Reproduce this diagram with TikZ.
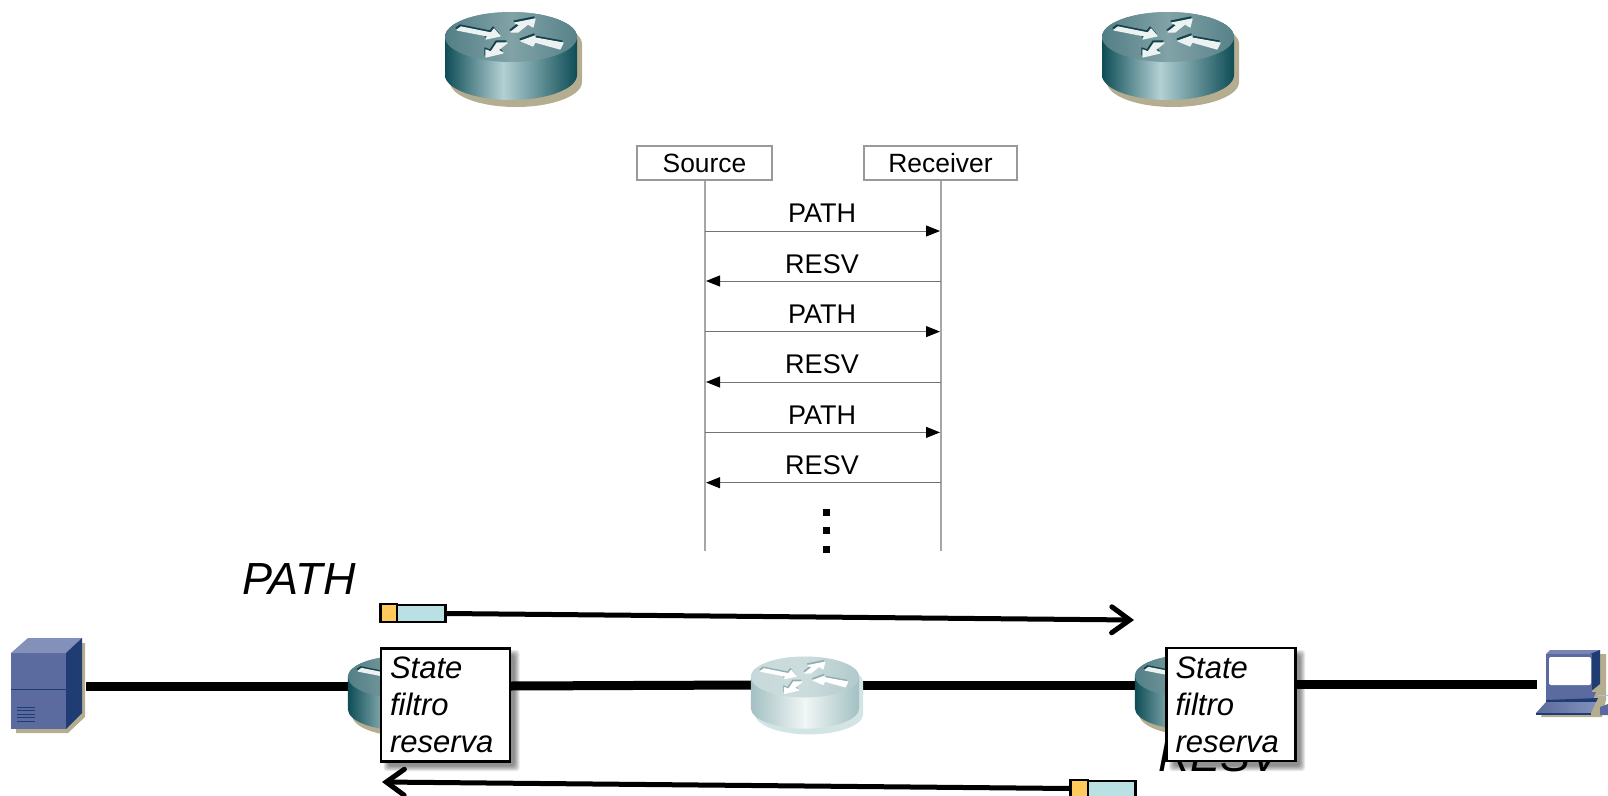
\documentclass[tikz,border=0pt]{standalone}
\usepackage{fontspec}
\setmainfont{Liberation Sans}
\usetikzlibrary{arrows.meta}
\definecolor{shadowD}{HTML}{B4AD8F}
\definecolor{sideD}{HTML}{0E4D56}
\definecolor{shadowL}{HTML}{D3E4E5}
\definecolor{sideL}{HTML}{A3C0C2}
\definecolor{midD}{HTML}{B3D0D4}
\colorlet{arrowD}{white!92!sideD}
\colorlet{arrowL}{white}
\definecolor{arrowshD}{HTML}{12434B}
\definecolor{arrowshL}{HTML}{8FAEB1}
\pgfdeclarehorizontalshading{routerbodyD}{100bp}{color(0bp)=(sideD); color(25bp)=(sideD); color(47bp)=(midD); color(75bp)=(sideD); color(100bp)=(sideD)}
\pgfdeclarehorizontalshading{routertopD}{100bp}{color(0bp)=(sideD!72!white); color(25bp)=(sideD!72!white); color(50bp)=(sideD!52!white); color(75bp)=(sideD!70!white); color(100bp)=(sideD!70!white)}
\pgfdeclarehorizontalshading{routerbodyL}{100bp}{color(0bp)=(sideL); color(25bp)=(sideL); color(50bp)=(white!85!sideL); color(75bp)=(sideL); color(100bp)=(sideL)}
\pgfdeclarehorizontalshading{routertopL}{100bp}{color(0bp)=(sideL!60!white); color(25bp)=(sideL!60!white); color(50bp)=(sideL!55!white); color(75bp)=(sideL!85!white); color(100bp)=(sideL!85!white)}
\newcommand{\bigfont}{\fontsize{45}{49}\selectfont\itshape}
\newcommand{\seqfont}{\fontsize{27}{30}\selectfont}
\newcommand{\headfont}{\fontsize{26.4}{30}\selectfont}
\newcommand{\boxfont}{\fontsize{31}{37}\selectfont\itshape}
\tikzset{
  router/.pic={
    \path[fill=shadow#1] (-61,7) -- (-61,45) arc[start angle=180,end angle=0,x radius=66,y radius=25] -- (71,7) arc[start angle=0,end angle=-180,x radius=66,y radius=25] -- cycle;
    \path[shading=routerbody#1] (-66,0) -- (-66,38) arc[start angle=180,end angle=0,x radius=66,y radius=25] -- (66,0) arc[start angle=0,end angle=-180,x radius=66,y radius=25] -- cycle;
    \path[shading=routertop#1] (0,0) ellipse[x radius=66,y radius=25];
    \foreach \dx/\dy/\cc in {-1/-2/arrowsh#1,0/0/arrow#1}{
      \path[fill=\cc,draw=\cc,line width=1.2pt,line join=round,shift={(\dx,\dy)}] (-54,-7) -- (-50,-10) -- (-20,-4) -- (-17,-8) -- (-11,-1) -- (-25,2) -- (-23,-1) -- cycle;
      \path[fill=\cc,draw=\cc,line width=1.2pt,line join=round,shift={(\dx,\dy)}] (0,-5) -- (9,-12) -- (4,-14) -- (24,-18) -- (22,-10) -- (17,-13) -- (7,-5) -- cycle;
      \path[fill=\cc,draw=\cc,line width=1.2pt,line join=round,shift={(\dx,\dy)}] (52,6) -- (49,12) -- (24,5) -- (22,9) -- (10,4) -- (24,-1) -- (24,1) -- cycle;
      \path[fill=\cc,draw=\cc,line width=1.2pt,line join=round,shift={(\dx,\dy)}] (-14,6) -- (-4,6) -- (-13,13) -- (-8,16) -- (-25,20) -- (-25,13) -- (-20,15) -- cycle;
    }
  },
  statebox/.style={draw=black,line width=2.4pt,fill=white,minimum width=129pt,minimum height=113pt,text width=111pt,inner sep=0pt,align=left,font=\boxfont},
  softshadow/.style={fill=black,opacity=.09,rounded corners=3pt},
  seqbox/.style={draw=black!40,line width=1.2pt,fill=white,inner sep=0pt,font=\headfont},
  lifeline/.style={draw=black!35,line width=1.4pt},
  seqmsg/.style={draw=black!55,line width=1pt,-{Triangle[length=14pt,width=11pt,color=black]}},
  seqlabel/.style={anchor=base,inner sep=0pt,font=\seqfont},
  biglabel/.style={anchor=base west,inner sep=0pt,font=\bigfont},
  wire/.style={draw=black,line width=9pt},
  flow/.style={draw=black,line width=5pt,-{Straight Barb[length=18pt,width=26pt,line cap=round]}},
  pktcase/.style={draw=black,line width=2.4pt,fill=pktblue},
  pkthead/.style={draw=black,line width=2.4pt,fill=pktorange},
}
\definecolor{pktblue}{HTML}{B9E0E2}
\definecolor{pktorange}{HTML}{FFC95C}
\definecolor{srvfront}{HTML}{5B6A9F}
\definecolor{srvtop}{HTML}{8290BA}
\definecolor{srvside}{HTML}{1F3D73}
\begin{document}
\begin{tikzpicture}[x=1pt,y=-1pt]
\useasboundingbox (0,0) rectangle (1608,795);
\clip (0,0) rectangle (1608,795);

% upper routers
\pic (rtopa) at (511,37) {router=D};
\pic (rtopb) at (1168,37) {router=D};

% message sequence chart
\node[seqbox,minimum width=135pt,minimum height=34pt] (source) at (704.5,163) {Source};
\node[seqbox,minimum width=153pt,minimum height=34pt] (receiver) at (940.5,163) {Receiver};
\coordinate (sEnd) at (705,551);
\coordinate (rEnd) at (941,551);
\draw[lifeline] (source.south -| sEnd) -- (sEnd);
\draw[lifeline] (receiver.south -| rEnd) -- (rEnd);
\foreach \i/\y/\t/\tb in {1/231/PATH/222,3/331.6/PATH/323,5/432.4/PATH/424}{
  \coordinate (sm\i) at (705,\y);
  \coordinate (rm\i) at (940,\y);
  \draw[seqmsg] (sm\i) -- (rm\i);
  \node[seqlabel] (lab\i) at (822,\tb) {\t};
}
\foreach \i/\y/\t/\tb in {2/281/RESV/273,4/382/RESV/373.5,6/482.7/RESV/474.5}{
  \coordinate (sm\i) at (706,\y);
  \coordinate (rm\i) at (941,\y);
  \draw[seqmsg] (rm\i) -- (sm\i);
  \node[seqlabel] (lab\i) at (822,\tb) {\t};
}
\foreach \i/\y in {1/512,2/530.5,3/549}{
  \path[fill=black] (822.5,\y-3.5) rectangle (829.5,\y+3.5);
}

% link
\coordinate (srvE) at (86,686.5);
\coordinate (r1W) at (350,686.5);
\coordinate (b1E) at (510,686);
\coordinate (rmW) at (752,685);
\coordinate (rmE) at (860,685);
\coordinate (r2W) at (1137,685);
\coordinate (b2E) at (1296,684);
\coordinate (pcW) at (1537,684);
\draw[wire] (srvE) -- (r1W);
\draw[wire] (b1E) -- (rmW);
\draw[wire] (rmE) -- (r2W);
\draw[wire] (b2E) -- (pcW);

% lower routers
\pic[scale=.85] (rl) at (404,677) {router=D};
\pic[scale=.82] (rm) at (805,677) {router=L};
\pic[scale=.85] (rr) at (1191,676) {router=D};

% server
\path[fill=shadowD] (20,645) -- (85,643) -- (85,717) -- (68,733) -- (16,733) -- (16,700) -- cycle;
\path[fill=srvfront] (11,653) rectangle (66,729);
\path[fill=srvtop] (11,653) -- (28,638) -- (82,638) -- (66,653) -- cycle;
\path[fill=srvside] (66,653) -- (82,638) -- (82,713) -- (66,729) -- cycle;
\draw[srvside,line width=.9pt] (11,689) -- (66,689);
\foreach \y in {707,710.5,714,717.5,721}{
  \draw[srvside,line width=.8pt] (17,\y) -- (35,\y);
}

% workstation
\path[fill=shadowD] (1552,654) -- (1606,654) -- (1606,700) -- (1602,717) -- (1541,717) -- (1548,700) -- cycle;
\path[fill=srvtop!70!srvfront] (1546,654) -- (1550,650) -- (1600,650) -- (1593,656) -- cycle;
\path[fill=srvside] (1590,654) -- (1600,650) -- (1600,684) -- (1590,692) -- cycle;
\path[fill=srvfront] (1546,654) rectangle (1592,692);
\path[fill=white,rounded corners=2pt] (1549,657) rectangle (1591,685);
\path[fill=srvfront] (1546,692) -- (1596,692) -- (1592,702) -- (1546,702) -- cycle;
\path[fill=srvside] (1546,700) -- (1598,698) -- (1596,702) -- (1546,703) -- cycle;
\path[left color=srvfront,right color=srvtop] (1536,713) -- (1546,702) -- (1596,702) -- (1591,713) -- cycle;
\path[fill=srvside] (1536,713) rectangle (1591,715);
\path[fill=srvfront] (1600,707) -- (1608,704) -- (1608,715) -- (1600,715) -- cycle;
\draw[srvtop!60!white,line width=1pt] (1598,695) -- (1608,695);

% RESV label, cut at its foot
\begin{scope}
\clip (1100,700) rectangle (1340,771);
\node[biglabel] (resv) at (1158,771) {RESV};
\end{scope}

% state boxes
\foreach \cx/\n in {445.5/a,1231/b}{
  \foreach \g in {0,1,2,3,4,5}{
    \path[softshadow] (\cx-64+7-\g,648+7-\g) rectangle (\cx+64+7+\g-2,761+7+\g-2);
  }
}
\node[statebox] (statea) at (445.5,705) {State\\filtro\\reserva};
\node[statebox] (stateb) at (1231,704.5) {State\\filtro\\reserva};

% PATH flow
\node[biglabel] (pathlbl) at (242,594) {PATH};
\node[pktcase,minimum width=64pt,minimum height=17pt,inner sep=0pt] (pkta) at (413.5,613.5) {};
\path[pkthead] (pkta.north west) rectangle (397,622);
\coordinate (pathTip) at (1134,620);
\draw[flow] (pkta.east) -- (pathTip);

% RESV flow
\node[pktcase,minimum width=64pt,minimum height=24pt,inner sep=0pt] (pktb) at (1103.5,793) {};
\path[pkthead] (pktb.north west) rectangle (1088,806);
\coordinate (resvTip) at (382,782);
\draw[flow] (pktb.west |- 0,788.5) -- (resvTip);
\end{tikzpicture}
\end{document}
